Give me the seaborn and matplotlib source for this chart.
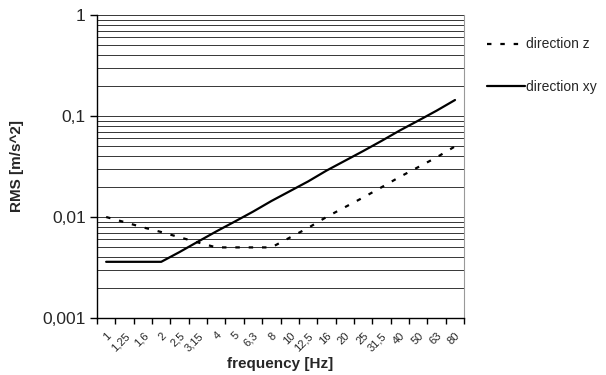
import matplotlib
matplotlib.use("Agg")
from matplotlib import pyplot as plt
from matplotlib.ticker import FixedLocator, NullFormatter, LogLocator
import seaborn as sns
import pandas as pd
import numpy as np

freq_labels = ["1", "1,25", "1,6", "2", "2,5", "3,15", "4", "5", "6,3", "8",
               "10", "12,5", "16", "20", "25", "31,5", "40", "50", "63", "80"]
rms_z = [0.01, 0.0089, 0.0079, 0.0071, 0.0063, 0.0056, 0.005, 0.005, 0.005, 0.005,
         0.00625, 0.0078, 0.01, 0.0125, 0.0156, 0.0197, 0.025, 0.0312, 0.039, 0.05]
rms_xy = [0.0036, 0.0036, 0.0036, 0.0036, 0.0045, 0.0057, 0.0072, 0.009, 0.0113, 0.0144,
          0.018, 0.0225, 0.0288, 0.036, 0.045, 0.0567, 0.072, 0.09, 0.113, 0.144]
series_names = ["direction z", "direction xy"]
y_ticks = [0.001, 0.01, 0.1, 1]
y_tick_labels = ["0,001", "0,01", "0,1", "1"]

n = len(freq_labels)
df = pd.DataFrame({
    "pos": list(range(n)) * 2,
    "rms": rms_z + rms_xy,
    "direction": [series_names[0]] * n + [series_names[1]] * n,
})

sns.set_style("white")
plt.rcParams["font.family"] = ["Liberation Sans", "DejaVu Sans"]

fig = plt.figure(figsize=(6.06, 3.75), dpi=100)
ax = fig.add_axes([0.160, 0.152, 0.606, 0.808])

sns.lineplot(data=df, x="pos", y="rms", hue="direction", style="direction",
             palette={s: "black" for s in series_names},
             dashes={"direction z": (2, 4), "direction xy": ""},
             linewidth=1.6, ax=ax)

ax.set_yscale("log")
ax.set_ylim(0.001, 1)
ax.set_xlim(-0.5, n - 0.5)

# y axis: decimal commas, grid on every minor step
ax.yaxis.set_major_locator(FixedLocator(y_ticks))
ax.set_yticklabels(y_tick_labels, fontsize=12.5)
ax.yaxis.set_minor_locator(LogLocator(base=10, subs=np.arange(2, 10)))
ax.yaxis.set_minor_formatter(NullFormatter())
ax.tick_params(axis="y", which="major", direction="out", length=5, width=1, color="black", left=True, pad=3)
ax.tick_params(axis="y", which="minor", length=0)
ax.yaxis.grid(True, which="both", color="black", linewidth=0.55)
ax.xaxis.grid(False)

# x axis: labels at category centres, tick marks between categories
ax.set_xticks(range(n))
ax.set_xticklabels(freq_labels, rotation=45, ha="right", rotation_mode="anchor", fontsize=8)
ax.set_xticks(np.arange(n + 1) - 0.5, minor=True)
ax.tick_params(axis="x", which="major", length=0, pad=9)
ax.tick_params(axis="x", which="minor", direction="out", length=4, width=1, color="black", bottom=True)

for side in ["left", "bottom"]:
    ax.spines[side].set_color("black")
    ax.spines[side].set_linewidth(1)
ax.spines["right"].set_color("#999999")
ax.spines["top"].set_visible(False)

ax.set_xlabel("frequency [Hz]", fontsize=11, fontweight="bold")
ax.set_ylabel("RMS [m/s^2]", fontsize=11, fontweight="bold")
ax.xaxis.set_label_coords(0.5, -0.128)
ax.yaxis.set_label_coords(-0.199, 0.5)

handles, labels = ax.get_legend_handles_labels()
ax.get_legend().remove()
fig.legend(handles, labels, loc="upper left", bbox_to_anchor=(0.804, 0.9),
           bbox_transform=fig.transFigure, frameon=False, fontsize=10,
           handlelength=2.7, handletextpad=0.1, labelspacing=2.05, borderpad=0,
           borderaxespad=0)

fig.savefig("out.png", dpi=100)
